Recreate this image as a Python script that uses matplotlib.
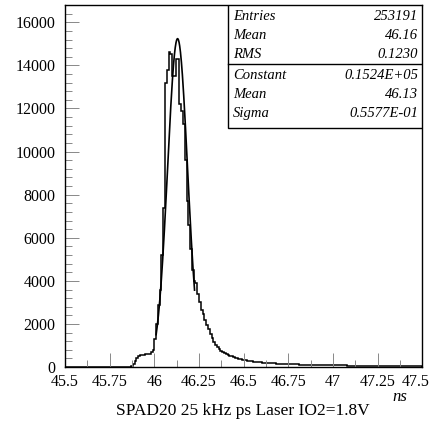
import numpy as np
import matplotlib
matplotlib.use('Agg')
from matplotlib import pyplot as plt
from matplotlib.ticker import MultipleLocator
from matplotlib.transforms import ScaledTranslation

# histogram: 200 bins of 0.01 ns between 45.5 and 47.5
bin_lo = 45.5
bin_hi = 47.5
counts = [
    0, 0, 0, 0, 0, 0, 0, 0, 0, 0,
    0, 0, 0, 0, 0, 0, 0, 0, 0, 0,
    0, 0, 0, 0, 0, 0, 0, 0, 0, 0,
    2, 3, 5, 6, 10, 14, 20, 60, 150, 280,
    400, 520, 560, 560, 580, 590, 600, 620, 720, 800,
    1300, 2000, 2900, 3600, 5200, 7400, 13200, 13800, 14600, 14550,
    13500, 13500, 14300, 14300, 12200, 11900, 11300, 9600, 7700, 6600,
    5500, 4500, 4000, 3900, 3400, 3000, 2650, 2450, 2200, 1950,
    1750, 1520, 1350, 1180, 1040, 920, 840, 770, 700, 650,
    610, 570, 530, 500, 470, 440, 410, 385, 365, 345,
    330, 315, 300, 285, 272, 260, 250, 240, 230, 222,
    214, 207, 200, 194, 188, 182, 176, 171, 166, 161,
    156, 152, 148, 144, 140, 137, 134, 131, 128, 125,
    122, 118, 118, 113, 112, 111, 107, 106, 105, 101,
    100, 98, 96, 95, 93, 91, 90, 88, 87, 85,
    84, 82, 81, 80, 78, 77, 76, 75, 74, 72,
    71, 70, 69, 68, 67, 66, 65, 64, 63, 62,
    61, 60, 60, 59, 58, 57, 56, 56, 55, 54,
    53, 53, 52, 51, 51, 50, 49, 49, 48, 48,
    47, 47, 46, 46, 45, 45, 44, 44, 43, 43,
]

# gaussian fit parameters (from the stats box)
fit_const = 15240.0
fit_mean = 46.13
fit_sigma = 0.05577
fit_lo = 46.01
fit_hi = 46.225

xtick_labels = ['45.5', '45.75', '46', '46.25', '46.5', '46.75',
                '47', '47.25', '47.5']
stat_names = ['Entries', 'Mean', 'RMS']
stat_values = ['253191', '46.16', '0.1230']
fit_names = ['Constant', 'Mean', 'Sigma']
fit_values = ['0.1524E+05', '46.13', '0.5577E-01']

plt.rcParams['font.family'] = ['Liberation Serif', 'DejaVu Serif']

fig = plt.figure(figsize=(4.35, 4.21), dpi=100)
ax = fig.add_axes([0.1494, 0.128, 0.8216, 0.860])

edges = np.linspace(bin_lo, bin_hi, len(counts) + 1)
ax.stairs(counts, edges, color='black', linewidth=1.1)

xf = np.linspace(fit_lo, fit_hi, 200)
yf = fit_const * np.exp(-0.5 * ((xf - fit_mean) / fit_sigma) ** 2)
ax.plot(xf, yf, color='black', linewidth=1.2)

ax.set_xlim(bin_lo, bin_hi)
ax.set_ylim(0, 16800)
ax.xaxis.set_minor_locator(MultipleLocator(0.125))
ax.yaxis.set_major_locator(MultipleLocator(2000))
ax.yaxis.set_minor_locator(MultipleLocator(400))
ax.set_xticks(np.arange(45.5, 47.51, 0.25))
ax.set_xticklabels(xtick_labels)
ax.tick_params(which='both', direction='in', top=False, right=False,
               color='#888888')
ax.tick_params(axis='x', labelsize=11.5, pad=5)
ax.tick_params(axis='y', labelsize=11.5, pad=7)
ax.tick_params(which='major', length=10, width=0.7)
ax.tick_params(which='minor', length=5, width=0.7)
# last x label is pulled inside the picture, the "0" is nudged up, as in the original
last = ax.get_xticklabels()[-1]
last.set_transform(last.get_transform() + ScaledTranslation(-0.07, 0, fig.dpi_scale_trans))
zero = ax.get_yticklabels()[0]
zero.set_transform(zero.get_transform() + ScaledTranslation(0, 0.06, fig.dpi_scale_trans))
for s in ax.spines.values():
    s.set_linewidth(1.0)

# stats box
bx0, by0 = 0.455, 0.660
ax.add_patch(plt.Rectangle((bx0, by0), 1 - bx0, 1 - by0, transform=ax.transAxes,
                           facecolor='white', edgecolor='black', linewidth=1.0,
                           zorder=5))
ax.plot([bx0, 1], [0.837, 0.837], transform=ax.transAxes, color='black',
        linewidth=1.0, zorder=6)
rows_y = [0.968, 0.915, 0.863, 0.805, 0.752, 0.700]
names = stat_names + fit_names
vals = stat_values + fit_values
for yy, n, v in zip(rows_y, names, vals):
    ax.text(0.470, yy, n, transform=ax.transAxes, style='italic', fontsize=10.5,
            va='center', ha='left', zorder=7)
    ax.text(0.988, yy, v, transform=ax.transAxes, style='italic', fontsize=10.5,
            va='center', ha='right', zorder=7)

fig.text(400 / 435, 1 - 397 / 421, 'ns', style='italic', fontsize=12,
         ha='center', va='center')
fig.text(243 / 435, 1 - 411 / 421, 'SPAD20 25 kHz ps Laser IO2=1.8V',
         fontsize=12.5, ha='center', va='center')

fig.savefig('out.png', dpi=100)
